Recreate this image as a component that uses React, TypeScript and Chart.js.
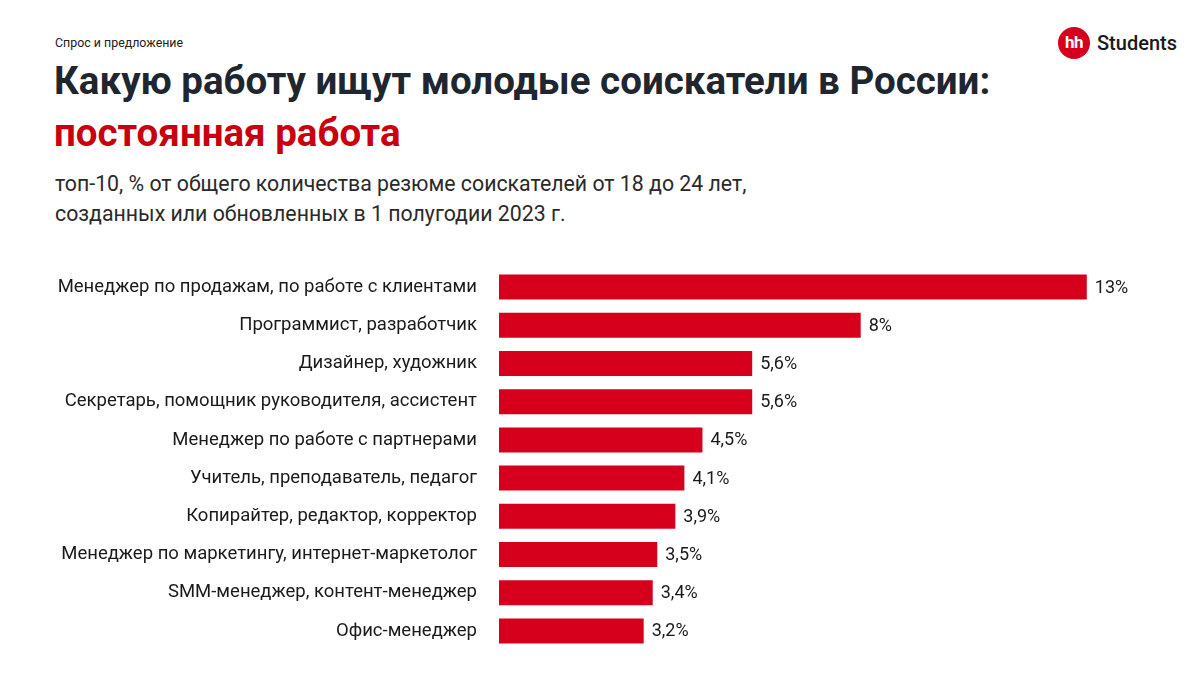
import React, { useEffect, useRef } from "react";
import { Chart, registerables } from "chart.js";

Chart.register(...registerables);

const categories = [
  "Менеджер по продажам, по работе с клиентами",
  "Программист, разработчик",
  "Дизайнер, художник",
  "Секретарь, помощник руководителя, ассистент",
  "Менеджер по работе с партнерами",
  "Учитель, преподаватель, педагог",
  "Копирайтер, редактор, корректор",
  "Менеджер по маркетингу, интернет-маркетолог",
  "SMM-менеджер, контент-менеджер",
  "Офис-менеджер",
];
const values = [13, 8, 5.6, 5.6, 4.5, 4.1, 3.9, 3.5, 3.4, 3.2];
const valueLabels = ["13%", "8%", "5,6%", "5,6%", "4,5%", "4,1%", "3,9%", "3,5%", "3,4%", "3,2%"];

const RED = "#d6001c";
const FONT = "Roboto, 'Noto Sans', sans-serif";

const valueLabelPlugin = {
  id: "valueLabels",
  afterDatasetsDraw(chart: any) {
    const ctx = chart.ctx;
    const meta = chart.getDatasetMeta(0);
    ctx.save();
    ctx.font = `400 18px ${FONT}`;
    ctx.fillStyle = "#1a1a1a";
    ctx.textAlign = "left";
    ctx.textBaseline = "middle";
    meta.data.forEach((bar: any, i: number) => {
      ctx.fillText(valueLabels[i], bar.x + 8, bar.y + 1);
    });
    ctx.restore();
  },
};

export default function App() {
  const ref = useRef<HTMLCanvasElement>(null);
  useEffect(() => {
    if (!ref.current) return;
    const chart = new Chart(ref.current, {
      type: "bar",
      data: {
        labels: categories,
        datasets: [
          {
            data: values,
            backgroundColor: RED,
            borderWidth: 0,
            categoryPercentage: 1,
            barPercentage: 0.655,
          },
        ],
      },
      options: {
        indexAxis: "y",
        animation: false,
        responsive: false,
        layout: { padding: { top: 268, bottom: 25, right: 68, left: 0 } },
        plugins: { legend: { display: false }, tooltip: { enabled: false } },
        scales: {
          x: { display: false, min: 0, max: 14 },
          y: {
            grid: { display: false, drawTicks: false },
            border: { display: false },
            afterFit: (scale: any) => {
              scale.width = 499;
              scale.paddingTop = 0;
              scale.paddingBottom = 0;
            },
            ticks: {
              padding: 22,
              color: "#1a1a1a",
              font: { family: FONT, size: 18.5 },
            },
          },
        },
      },
      plugins: [valueLabelPlugin],
    });
    return () => chart.destroy();
  }, []);

  return (
    <div style={{ position: "fixed", left: 0, top: 0, width: 1200, height: 675, background: "#fff", fontFamily: FONT, overflow: "hidden" }}>
      <div style={{ position: "absolute", left: 55, top: 35, fontSize: 12.4, color: "#222" }}>Спрос и предложение</div>
      <div style={{ position: "absolute", left: 54, top: 55, fontSize: 38.5, fontWeight: 700, color: "#1f2630", lineHeight: "52px", whiteSpace: "nowrap" }}>
        Какую работу ищут молодые соискатели в России:
        <br />
        <span style={{ color: "#c8000f" }}>постоянная работа</span>
      </div>
      <div style={{ position: "absolute", left: 55, top: 169, fontSize: 21.3, color: "#2a2a2a", lineHeight: "30px", whiteSpace: "nowrap" }}>
        топ-10, % от общего количества резюме соискателей от 18 до 24 лет,
        <br />
        созданных или обновленных в 1 полугодии 2023 г.
      </div>
      <div style={{ position: "absolute", left: 1058, top: 27, width: 32, height: 32, borderRadius: "50%", background: "#d6001c", color: "#fff", fontWeight: 700, fontSize: 17, textAlign: "center", lineHeight: "31px", letterSpacing: -0.5 }}>hh</div>
      <div style={{ position: "absolute", left: 1097, top: 31, fontSize: 20, fontWeight: 500, color: "#1a1a1a" }}>Students</div>
      <canvas ref={ref} width={1200} height={675} style={{ position: "absolute", left: 0, top: 0 }} />
    </div>
  );
}
